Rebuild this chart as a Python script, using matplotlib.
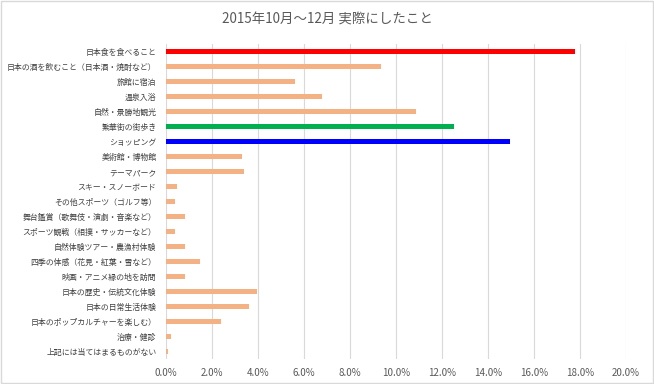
import matplotlib
matplotlib.use("Agg")
import matplotlib.pyplot as plt
from matplotlib.ticker import FuncFormatter, MultipleLocator
from matplotlib.patches import Rectangle

plt.rcParams['font.family'] = ['Noto Sans CJK JP', 'DejaVu Sans']

title = "2015年10月～12月 実際にしたこと"
categories = [
    "日本食を食べること",
    "日本の酒を飲むこと（日本酒・焼酎など）",
    "旅館に宿泊",
    "温泉入浴",
    "自然・景勝地観光",
    "繁華街の街歩き",
    "ショッピング",
    "美術館・博物館",
    "テーマパーク",
    "スキー・スノーボード",
    "その他スポーツ（ゴルフ等）",
    "舞台鑑賞（歌舞伎・演劇・音楽など）",
    "スポーツ観戦（相撲・サッカーなど）",
    "自然体験ツアー・農漁村体験",
    "四季の体感（花見・紅葉・雪など）",
    "映画・アニメ縁の地を訪問",
    "日本の歴史・伝統文化体験",
    "日本の日常生活体験",
    "日本のポップカルチャーを楽しむ）",
    "治療・健診",
    "上記には当てはまるものがない",
]
values = [17.8, 9.33, 5.59, 6.80, 10.87, 12.52, 14.96, 3.32, 3.38, 0.46, 0.38,
          0.80, 0.38, 0.84, 1.48, 0.80, 3.96, 3.61, 2.38, 0.22, 0.08]

default_color = "#F4B183"
highlight = {0: "#FF0000", 5: "#00B050", 6: "#0000FF"}
colors = [highlight.get(i, default_color) for i in range(len(values))]

fig = plt.figure(figsize=(6.54, 3.84), dpi=100)
fig.patch.set_facecolor("white")
fig.patches.append(Rectangle((0.001, 0.002), 0.997, 0.995, transform=fig.transFigure,
                             fill=False, edgecolor="#D9D9D9", linewidth=1.0))

ax = fig.add_axes([0.254, 0.0646, 0.703, 0.8204])
ypos = list(range(len(values)))
ax.barh(ypos, values, height=0.36, color=colors, zorder=3)

ax.set_xlim(0, 20)
ax.set_ylim(len(values) - 0.5, -0.5)
ax.xaxis.set_major_locator(MultipleLocator(2))
ax.xaxis.set_major_formatter(FuncFormatter(lambda v, p: f"{v:.1f}%"))
ax.set_yticks(ypos)
ax.set_yticklabels(categories, fontsize=5.7, color="#404040")
ax.tick_params(axis="x", labelsize=7, colors="#595959", length=0, pad=6)
ax.tick_params(axis="y", length=0, pad=7)
ax.grid(axis="x", color="#D9D9D9", linewidth=0.8, zorder=0)
for s in ax.spines.values():
    s.set_visible(False)

fig.text(0.5, 0.948, title, ha="center", va="center", fontsize=9.7, color="#595959")

fig.savefig("out.png", dpi=100)
